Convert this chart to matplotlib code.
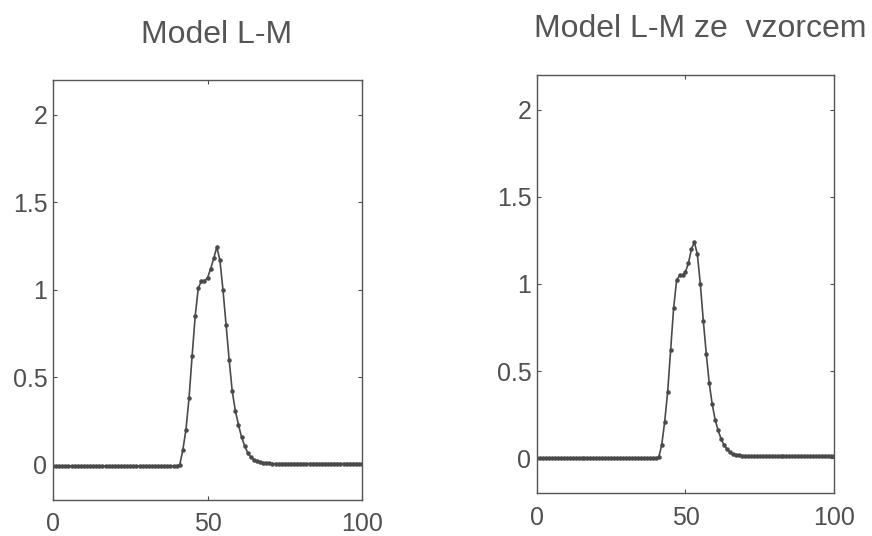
import matplotlib
matplotlib.use("Agg")
import matplotlib.pyplot as plt

plt.rcParams['font.family'] = ['Liberation Sans', 'DejaVu Sans']

x = list(range(0, 101))

# Left panel: Model L-M
y_left = ([-0.005] * 41 +
          [0.0, 0.085, 0.20, 0.38, 0.62, 0.85, 1.01, 1.05, 1.05, 1.07,
           1.12, 1.18, 1.245, 1.17, 1.00, 0.80, 0.60, 0.42, 0.31, 0.23,
           0.16, 0.11, 0.07, 0.045, 0.03, 0.02, 0.016, 0.013, 0.012, 0.011] +
          [0.008] * 30)

# Right panel: Model L-M ze vzorcem
y_right = ([0.0] * 41 +
           [0.005, 0.075, 0.21, 0.38, 0.62, 0.86, 1.02, 1.05, 1.05, 1.07,
            1.12, 1.20, 1.24, 1.17, 1.00, 0.79, 0.60, 0.43, 0.31, 0.22,
            0.16, 0.11, 0.075, 0.05, 0.035, 0.025, 0.02, 0.017, 0.015, 0.013] +
           [0.01] * 30)

titles = ["Model L-M", "Model L-M ze  vzorcem"]
xticks = [0, 50, 100]
yticks = [0, 0.5, 1, 1.5, 2]
yticklabels = ["0", "0.5", "1", "1.5", "2"]

fig = plt.figure(figsize=(8.72, 5.36), dpi=100)
ax1 = fig.add_axes([0.0608, 0.0672, 0.3544, 0.7836])
ax2 = fig.add_axes([0.6158, 0.0802, 0.3406, 0.7800])

gray = "#4a4a4a"
for ax, y, title in [(ax1, y_left, titles[0]), (ax2, y_right, titles[1])]:
    ax.plot(x, y, color=gray, lw=1.2, marker='.', markersize=4.5)
    ax.set_xlim(0, 100)
    ax.set_ylim(-0.2, 2.2)
    ax.set_xticks(xticks)
    ax.set_yticks(yticks)
    ax.set_yticklabels(yticklabels)
    ax.tick_params(direction='in', length=3, width=0.8, colors=gray,
                   labelsize=18, labelcolor="#505050",
                   top=True, right=True)
    ax.tick_params(axis='x', pad=9)
    ax.tick_params(axis='y', pad=4)
    for s in ax.spines.values():
        s.set_color("#555555")
        s.set_linewidth(1.0)

fig.text(0.248, 0.920, titles[0], ha='center', va='baseline', fontsize=23, color="#555555")
fig.text(0.803, 0.931, titles[1], ha='center', va='baseline', fontsize=23, color="#555555")

fig.savefig("out.png", dpi=100)
